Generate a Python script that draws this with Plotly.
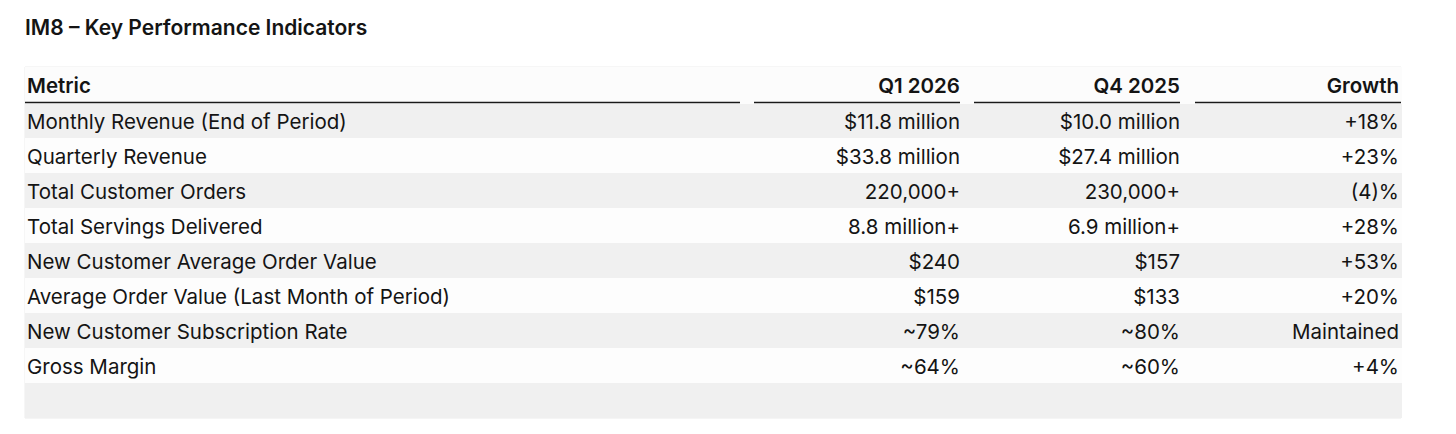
import plotly.graph_objects as go

W, H = 1456, 434

title = "IM8 – Key Performance Indicators"
headers = ["Metric", "Q1 2026", "Q4 2025", "Growth"]
metrics = [
    "Monthly Revenue (End of Period)",
    "Quarterly Revenue",
    "Total Customer Orders",
    "Total Servings Delivered",
    "New Customer Average Order Value",
    "Average Order Value (Last Month of Period)",
    "New Customer Subscription Rate",
    "Gross Margin",
    "",
]
q1_2026 = ["$11.8 million", "$33.8 million", "220,000+", "8.8 million+",
           "$240", "$159", "~79%", "~64%", ""]
q4_2025 = ["$10.0 million", "$27.4 million", "230,000+", "6.9 million+",
           "$157", "$133", "~80%", "~60%", ""]
growth = ["+18%", "+23%", "(4)%", "+28%", "+53%", "+20%", "Maintained", "+4%", ""]

GREY = "#f0f0f0"
WHITE = "#fdfdfd"
HEAD_BG = "#fcfcfc"
row_fill = [GREY if i % 2 == 0 else WHITE for i in range(len(metrics))]
TXT = "#141414"
CLEAR = "rgba(0,0,0,0)"
FONT = "Inter"
ALIGN = ["left", "right", "right", "right"]


def px(x):
    return x / W


def py(y):
    return 1 - y / H


fig = go.Figure()

# background layer: row stripes only
blank = [""] * len(metrics)
fig.add_trace(
    go.Table(
        domain=dict(x=[px(25), px(1401)], y=[py(418), py(67)]),
        columnwidth=[722, 221, 220, 213],
        header=dict(
            values=[""] * len(headers),
            fill_color=HEAD_BG,
            line=dict(color=HEAD_BG, width=1),
            font=dict(family=FONT, size=20.5),
            height=36,
        ),
        cells=dict(
            values=[blank] * 4,
            fill_color=[row_fill] * 4,
            line=dict(color=[row_fill] * 4, width=1),
            font=dict(family=FONT, size=20.5),
            height=35,
        ),
    )
)

# text layer, slightly offset so the text sits like the original
fig.add_trace(
    go.Table(
        domain=dict(x=[px(19), px(1407)], y=[py(421), py(70)]),
        columnwidth=[728, 221, 220, 219],
        header=dict(
            values=headers, align=ALIGN,
            fill_color=CLEAR,
            line=dict(color=CLEAR, width=1),
            font=dict(family=FONT, size=20.5, color=TXT, weight=600),
            height=36,
        ),
        cells=dict(
            values=[metrics, q1_2026, q4_2025, growth], align=ALIGN,
            fill_color=CLEAR,
            line=dict(color=CLEAR, width=1),
            font=dict(family=FONT, size=20.5, color=TXT),
            height=35,
        ),
    )
)

# header underlines, one per column with small gaps between
underlines = [(25, 740), (754, 960), (974, 1180), (1195, 1401)]
for x0, x1 in underlines:
    fig.add_shape(type="line", xref="paper", yref="paper",
                  x0=px(x0), x1=px(x1), y0=py(102.5), y1=py(102.5),
                  line=dict(color="#1a1a1a", width=1.5))

# faint outline around the table
fig.add_shape(type="rect", xref="paper", yref="paper",
              x0=px(25), x1=px(1401), y0=py(418), y1=py(67),
              line=dict(color="#ececec", width=1), layer="below")

fig.update_layout(
    width=W, height=H,
    margin=dict(l=0, r=0, t=0, b=0),
    paper_bgcolor="white",
    plot_bgcolor="white",
    title=dict(text=title, x=px(25), xanchor="left",
               y=py(28), yanchor="middle",
               font=dict(family=FONT, size=21, color=TXT, weight=600)),
)

fig.write_html("out.html", config=dict(displayModeBar=False),
               post_script="document.body.style.margin='0';")
